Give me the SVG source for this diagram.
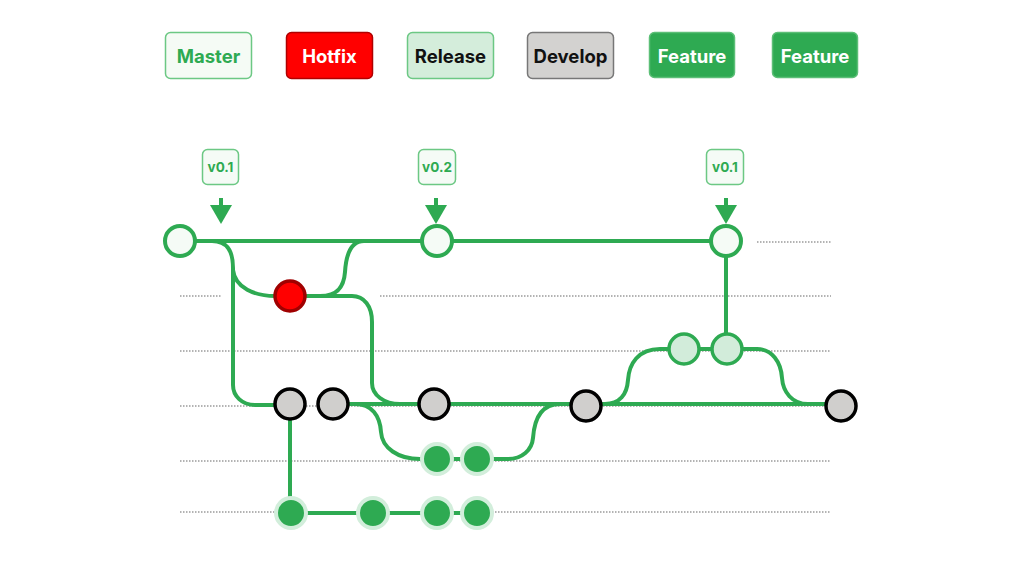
<svg xmlns="http://www.w3.org/2000/svg" width="1024" height="562" viewBox="0 0 1024 562">
<defs>
<style>
.lg{stroke-width:1.5}
.lt{font-family:"Inter","Noto Sans","Liberation Sans",sans-serif;font-weight:700;font-size:18.5px;text-anchor:middle;dominant-baseline:central}
.tag{fill:#f5fbf6;stroke:#6cc884;stroke-width:1.5}
.tt{font-family:"Inter","Noto Sans","Liberation Sans",sans-serif;font-weight:700;font-size:13.5px;fill:#2eaa52;text-anchor:middle;dominant-baseline:central}
.dot{stroke:#b3b3b3;stroke-width:2;stroke-dasharray:1.5 1.5;fill:none}
.ln{stroke:#2eaa52;stroke-width:4;fill:none}
.m{fill:#f5fbf6;stroke:#2eaa52;stroke-width:4}
.h{fill:#ff0000;stroke:#a00000;stroke-width:3.5}
.r{fill:#d2ecda;stroke:#2eaa52;stroke-width:3.5}
.d{fill:#d0cfcd;stroke:#000;stroke-width:3.5}
.f{fill:#2eaa52;stroke:#d2eedb;stroke-width:4}
.ar{fill:#2eaa52}
</style>
</defs>
<rect width="1024" height="562" fill="#fff"/>
<g id="legend">
<g id="lg-master"><rect class="lg" x="165.5" y="32.5" width="86" height="46" rx="5" fill="#f5fbf5" stroke="#6cc884"/><text class="lt" x="208.5" y="56" fill="#2eaa52">Master</text></g>
<g id="lg-hotfix"><rect class="lg" x="286.5" y="32.5" width="86" height="46" rx="5" fill="#ff0000" stroke="#b00000"/><text class="lt" x="329.5" y="56" fill="#fff">Hotfix</text></g>
<g id="lg-release"><rect class="lg" x="407.5" y="32.5" width="86" height="46" rx="5" fill="#d4eddb" stroke="#6cc884"/><text class="lt" x="450.5" y="56" fill="#111">Release</text></g>
<g id="lg-develop"><rect class="lg" x="527.5" y="32.5" width="86" height="46" rx="5" fill="#d3d2d0" stroke="#777"/><text class="lt" x="570.5" y="56" fill="#111">Develop</text></g>
<g id="lg-feature1"><rect class="lg" x="649.5" y="32.5" width="85" height="45" rx="5" fill="#2eaa52" stroke="#5cbf77"/><text class="lt" x="692" y="55.5" fill="#fff">Feature</text></g>
<g id="lg-feature2"><rect class="lg" x="772.5" y="32.5" width="85" height="45" rx="5" fill="#2eaa52" stroke="#5cbf77"/><text class="lt" x="815" y="55.5" fill="#fff">Feature</text></g>
</g>
<g id="lanes">
<line class="dot" x1="757" y1="242" x2="831" y2="242"/>
<line class="dot" x1="180" y1="296" x2="222" y2="296"/>
<line class="dot" x1="380" y1="296" x2="831" y2="296"/>
<line class="dot" x1="180" y1="351" x2="831" y2="351"/>
<line class="dot" x1="180" y1="406" x2="831" y2="406"/>
<line class="dot" x1="180" y1="461" x2="831" y2="461"/>
<line class="dot" x1="180" y1="512" x2="831" y2="512"/>
</g>
<g id="tags">
<g id="tag1"><rect class="tag" x="202.5" y="149.5" width="36" height="35" rx="5"/><text class="tt" x="220.5" y="167">v0.1</text><rect class="ar" x="219" y="198" width="4" height="8"/><polygon class="ar" points="210,205 232,205 221,224"/></g>
<g id="tag2"><rect class="tag" x="418.5" y="149.5" width="37" height="35" rx="5"/><text class="tt" x="437" y="167">v0.2</text><rect class="ar" x="434" y="198" width="4" height="8"/><polygon class="ar" points="425,205 447,205 436,224"/></g>
<g id="tag3"><rect class="tag" x="706.5" y="149.5" width="37" height="35" rx="5"/><text class="tt" x="725" y="167">v0.1</text><rect class="ar" x="724" y="198" width="4" height="8"/><polygon class="ar" points="715,205 737,205 726,224"/></g>
</g>
<g id="connectors">
<path class="ln" d="M179 241 H726"/>
<path class="ln" d="M212 241 C228 241 233 252 233 268 V385 C233 396 242 405 255 405 H290"/>
<path class="ln" d="M233 270 C235 288 255 296 275 296 H290"/>
<path class="ln" d="M290 296 H320 C338 296 344 286 345 272 C346 256 350 241 364 241"/>
<path class="ln" d="M290 296 H352 C364 296 372 306 372 322 V383 C372 395 384 404 400 404 H433"/>
<path class="ln" d="M333 404 H433"/>
<path class="ln" d="M355 404 C372 404 380 416 381 432 C382 448 398 459 420 459 H477"/>
<path class="ln" d="M290 405 V513"/>
<path class="ln" d="M290 513 H477"/>
<path class="ln" d="M477 459 H508 C522 459 532 450 533 438 C534 424 538 404 560 404 H585"/>
<path class="ln" d="M433 404 H585 H840"/>
<path class="ln" d="M605 404 C620 404 627 394 628 380 C629 364 638 349 660 349 H726"/>
<path class="ln" d="M726 241 V349"/>
<path class="ln" d="M726 349 H757 C772 349 781 362 782 378 C783 392 792 404 808 404 H840"/>
</g>
<g id="nodes">
<g id="m1"><circle class="m" cx="180" cy="241" r="15"/></g>
<g id="m2"><circle class="m" cx="437" cy="241" r="15"/></g>
<g id="m3"><circle class="m" cx="726" cy="241" r="15"/></g>
<g id="h1"><circle class="h" cx="290" cy="296" r="15"/></g>
<g id="r1"><circle class="r" cx="684" cy="349" r="15"/></g>
<g id="r2"><circle class="r" cx="727" cy="349" r="15"/></g>
<g id="d1"><circle class="d" cx="290" cy="404" r="15"/></g>
<g id="d2"><circle class="d" cx="333" cy="404" r="15"/></g>
<g id="d3"><circle class="d" cx="434" cy="404" r="15"/></g>
<g id="d4"><circle class="d" cx="586" cy="406" r="15"/></g>
<g id="d5"><circle class="d" cx="841" cy="406" r="15"/></g>
<g id="f1a"><circle class="f" cx="437" cy="459" r="15"/></g>
<g id="f1b"><circle class="f" cx="477" cy="459" r="15"/></g>
<g id="f2a"><circle class="f" cx="291" cy="513" r="15"/></g>
<g id="f2b"><circle class="f" cx="373" cy="513" r="15"/></g>
<g id="f2c"><circle class="f" cx="437" cy="513" r="15"/></g>
<g id="f2d"><circle class="f" cx="477" cy="513" r="15"/></g>
</g>
</svg>
